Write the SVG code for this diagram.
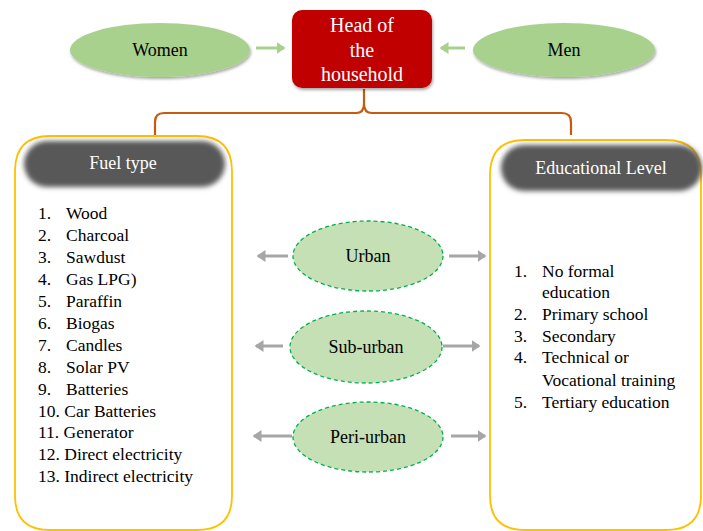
<svg xmlns="http://www.w3.org/2000/svg" width="703" height="531" viewBox="0 0 703 531" font-family="'Liberation Serif', 'DejaVu Serif', serif">
<style>
.lbl{font-size:18px;fill:#000;text-anchor:middle;}
.lst{font-size:17.5px;fill:#000;}
.hdr{font-size:18px;fill:#fff;text-anchor:middle;}
.oval{fill:#A9D18E;filter:url(#sh);}
.dash{fill:#C5E0B4;stroke:#00B050;stroke-width:1.3;stroke-dasharray:4 3;}
.box{fill:#fff;stroke:#FFC000;stroke-width:1.8;}
.pill{fill:#595959;filter:url(#blur);}
.ga{stroke:#A6A6A6;stroke-width:3;fill:none;marker-end:url(#gah);}
.gr{stroke:#A9D18E;stroke-width:3;fill:none;marker-end:url(#grh);}
</style>
<defs>
<filter id="sh" x="-20%" y="-30%" width="140%" height="170%">
<feDropShadow dx="1" dy="2" stdDeviation="1.5" flood-color="#000" flood-opacity="0.35"/>
</filter>
<filter id="blur" x="-10%" y="-30%" width="120%" height="160%">
<feGaussianBlur stdDeviation="2.5"/>
</filter>
<filter id="sh2" x="-10%" y="-10%" width="120%" height="130%">
<feDropShadow dx="1" dy="2" stdDeviation="1.5" flood-color="#000" flood-opacity="0.35"/>
</filter>
<marker id="gah" markerWidth="4" markerHeight="4" refX="2.5" refY="2" orient="auto" markerUnits="strokeWidth">
<path d="M0,0 L3,2 L0,4 z" fill="#A6A6A6"/>
</marker>
<marker id="grh" markerWidth="4" markerHeight="4" refX="2.5" refY="2" orient="auto" markerUnits="strokeWidth">
<path d="M0,0 L3,2 L0,4 z" fill="#A9D18E"/>
</marker>
</defs>
<rect width="703" height="531" fill="#fff"/>

<g id="connectors">
<path d="M364,89 V104 Q364,113 356,113 H164 Q155,113 155,122 V135" fill="none" stroke="#C55A11" stroke-width="2.2"/>
<path d="M364,104 Q364,113 372,113 H562 Q571,113 571,122 V135" fill="none" stroke="#C55A11" stroke-width="2.2"/>
<line class="gr" x1="256" y1="48" x2="284" y2="48"/>
<line class="gr" x1="465" y1="48" x2="441" y2="48"/>
<line class="ga" x1="288" y1="256" x2="258" y2="256"/>
<line class="ga" x1="449" y1="256" x2="485" y2="256"/>
<line class="ga" x1="283" y1="346" x2="256" y2="346"/>
<line class="ga" x1="443" y1="346" x2="479" y2="346"/>
<line class="ga" x1="292" y1="436" x2="254" y2="436"/>
<line class="ga" x1="451" y1="436" x2="485" y2="436"/>
</g>

<g id="women">
<ellipse class="oval" cx="160" cy="50" rx="90" ry="27"/>
<text class="lbl" x="160" y="56">Women</text>
</g>
<g id="men">
<ellipse class="oval" cx="564" cy="50" rx="91" ry="27"/>
<text class="lbl" x="564" y="56">Men</text>
</g>
<g id="head">
<rect x="292" y="10" width="140" height="78" rx="10" fill="#C00000" filter="url(#sh2)"/>
<text class="hdr" x="362" y="32" style="font-size:20px">Head of</text>
<text class="hdr" x="362" y="57" style="font-size:20px">the</text>
<text class="hdr" x="362" y="81" style="font-size:20px">household</text>
</g>

<g id="fuel">
<path class="box" d="M15,496 V171 Q15,136 50,136 H197 Q232,136 232,171 V496 Q232,530 197,530 H50 Q15,530 15,496 Z"/>
<rect class="pill" x="24" y="141" width="201" height="46" rx="23"/>
<text class="hdr" x="123" y="169">Fuel type</text>
<text class="lst" x="38" y="219">1.</text><text class="lst" x="66" y="219">Wood</text>
<text class="lst" x="38" y="241">2.</text><text class="lst" x="66" y="241">Charcoal</text>
<text class="lst" x="38" y="263">3.</text><text class="lst" x="66" y="263">Sawdust</text>
<text class="lst" x="38" y="285">4.</text><text class="lst" x="66" y="285">Gas LPG)</text>
<text class="lst" x="38" y="307">5.</text><text class="lst" x="66" y="307">Paraffin</text>
<text class="lst" x="38" y="329">6.</text><text class="lst" x="66" y="329">Biogas</text>
<text class="lst" x="38" y="351">7.</text><text class="lst" x="66" y="351">Candles</text>
<text class="lst" x="38" y="373">8.</text><text class="lst" x="66" y="373">Solar PV</text>
<text class="lst" x="38" y="395">9.</text><text class="lst" x="66" y="395">Batteries</text>
<text class="lst" x="38" y="417">10. Car Batteries</text>
<text class="lst" x="38" y="438">11. Generator</text>
<text class="lst" x="38" y="460">12. Direct electricity</text>
<text class="lst" x="38" y="482">13. Indirect electricity</text>
</g>

<g id="education">
<path class="box" d="M490,496 V175 Q490,140 525,140 H666 Q701,140 701,175 V496 Q701,530 666,530 H525 Q490,530 490,496 Z"/>
<rect class="pill" x="501" y="145" width="201" height="46" rx="23"/>
<text class="hdr" x="601" y="174">Educational Level</text>
<text class="lst" x="514" y="277">1.</text><text class="lst" x="542" y="277">No formal</text>
<text class="lst" x="542" y="298">education</text>
<text class="lst" x="514" y="320">2.</text><text class="lst" x="542" y="320">Primary school</text>
<text class="lst" x="514" y="342">3.</text><text class="lst" x="542" y="342">Secondary</text>
<text class="lst" x="514" y="363">4.</text><text class="lst" x="542" y="363">Technical or</text>
<text class="lst" x="542" y="386">Vocational training</text>
<text class="lst" x="514" y="408">5.</text><text class="lst" x="542" y="408">Tertiary education</text>
</g>

<g id="urban">
<ellipse class="dash" cx="368" cy="256" rx="75" ry="35"/>
<text class="lbl" x="368" y="262">Urban</text>
</g>
<g id="suburban">
<ellipse class="dash" cx="366" cy="347" rx="76" ry="36"/>
<text class="lbl" x="366" y="353">Sub-urban</text>
</g>
<g id="periurban">
<ellipse class="dash" cx="368" cy="437" rx="75" ry="35"/>
<text class="lbl" x="368" y="443">Peri-urban</text>
</g>
</svg>
